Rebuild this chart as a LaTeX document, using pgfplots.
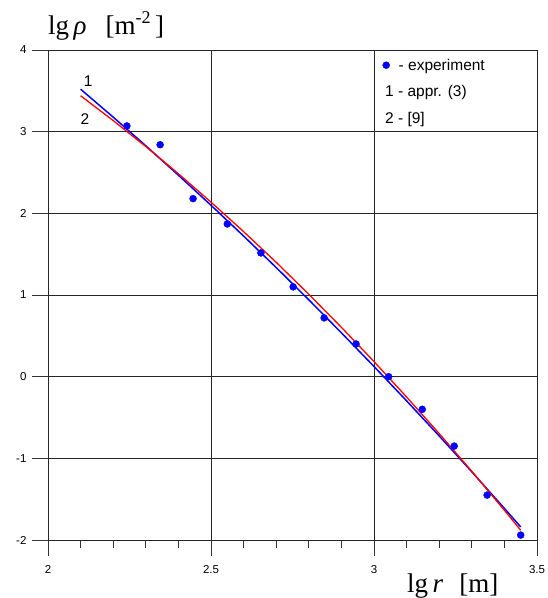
\documentclass[border=0pt]{standalone}
\usepackage{fontspec}
\setmainfont{Liberation Sans}
\newfontfamily\tnr{Liberation Serif}
\usepackage{pgfplots}
\pgfplotsset{compat=1.18}

\begin{document}
\begin{tikzpicture}
\path[use as bounding box] (-48pt,-58pt) rectangle (500pt,540pt);
\begin{axis}[
    at={(0,0)}, anchor=south west,
    scale only axis, width=489pt, height=490pt,
    xmin=2, xmax=3.5, ymin=-2, ymax=4,
    xtick={2,2.5,3,3.5}, ytick={-2,-1,...,4},
    minor x tick num=4,
    xtick pos=bottom, ytick pos=left,
    tick align=outside,
    major tick length=16pt, minor tick length=8pt,
    grid=major,
    major grid style={black!85, line width=0.9pt},
    axis line style={black!85, line width=0.9pt},
    every tick/.style={black!80, line width=0.9pt},
    tick label style={font=\fontsize{11.5}{13}\selectfont},
    /pgf/number format/assume math mode=true,
    yticklabel style={anchor=east, xshift=-2pt},
    xticklabel style={anchor=north, yshift=-6pt},
    xlabel={{\tnr\fontsize{27}{30}\selectfont lg\,\textit{r}\hspace{0.6em}[m]}},
    xlabel style={at={(axis description cs:0.734,0)}, anchor=base west, yshift=-52pt, inner sep=0pt},
    ylabel={{\tnr\fontsize{27}{30}\selectfont lg\,\textit{ρ}\hspace{0.7em}[m\raisebox{0.42em}{\fontsize{18}{18}\selectfont -2}\,]}},
    ylabel style={rotate=-90, at={(axis description cs:0,1)}, anchor=base west, yshift=15pt, inner sep=0pt},
    legend style={draw=none, fill=none, inner sep=0pt, column sep=7pt,
        at={(axis description cs:0.684,0.969)}, anchor=west,
        font=\fontsize{15.5}{17}\selectfont},
    legend cell align=left,
]
% curve 1 - appr. (3)
\addplot[blue, line width=1.5pt, forget plot] coordinates {
(2.10,3.520) (2.20,3.178) (2.30,2.827) (2.40,2.467) (2.50,2.099) (2.60,1.722)
(2.70,1.336) (2.80,0.941) (2.90,0.537) (3.00,0.125) (3.10,-0.296) (3.20,-0.726)
(3.30,-1.165) (3.40,-1.613) (3.45,-1.840)};
% curve 2 - [9]
\addplot[red, line width=1.3pt, forget plot] coordinates {
(2.10,3.440) (2.20,3.136) (2.30,2.818) (2.40,2.485) (2.50,2.137) (2.60,1.776)
(2.70,1.400) (2.80,1.009) (2.90,0.604) (3.00,0.185) (3.10,-0.249) (3.20,-0.697)
(3.30,-1.159) (3.40,-1.636) (3.45,-1.880)};
% experiment
\addplot[only marks, mark=*, mark size=3.5pt, blue] coordinates {
(2.242,3.07) (2.344,2.84) (2.445,2.18) (2.55,1.87) (2.653,1.515) (2.752,1.10)
(2.847,0.72) (2.945,0.40) (3.045,0.0) (3.148,-0.40) (3.246,-0.85) (3.347,-1.45)
(3.45,-1.94)};
\addlegendentry{- experiment}
\node[anchor=west, inner sep=0pt, font=\fontsize{15.5}{17}\selectfont] at (axis cs:3.0337,3.477) {1 - appr. (3)};
\node[anchor=west, inner sep=0pt, font=\fontsize{15.5}{17}\selectfont] at (axis cs:3.0337,3.143) {2 - [9]};
\node[font=\fontsize{15.5}{17}\selectfont] at (axis cs:2.1236,3.62) {1};
\node[font=\fontsize{15.5}{17}\selectfont] at (axis cs:2.1135,3.155) {2};
\end{axis}
\end{tikzpicture}
\end{document}
